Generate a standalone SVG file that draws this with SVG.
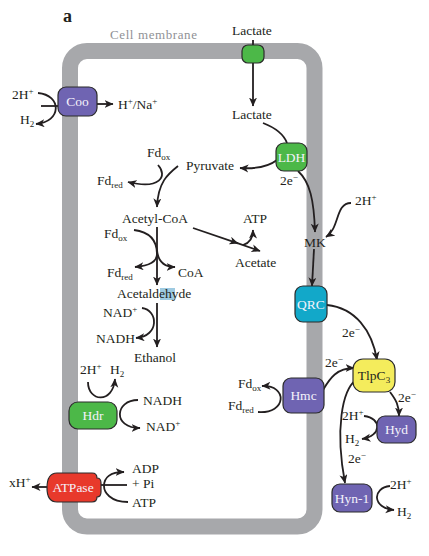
<svg xmlns="http://www.w3.org/2000/svg" width="429" height="556" viewBox="0 0 429 556">
<style>
text{font-family:"Liberation Serif","Times New Roman",serif;font-size:13.5px;fill:#231f20}
.sup{font-size:9px}
.sub{font-size:9px}
.lbl{fill:#f4f2fb;font-size:13.5px;text-anchor:middle}
.c{fill:none;stroke:#231f20;stroke-width:1.8}
.a{marker-end:url(#ah)}
.node{stroke:#2b2b2b;stroke-width:1.2}
</style>
<defs>
<marker id="ah" markerUnits="userSpaceOnUse" markerWidth="10" markerHeight="9" refX="8.5" refY="4" orient="auto">
<path d="M0,0 L9,4 L0,8 L2.5,4 z" fill="#231f20"/>
</marker>
</defs>
<rect width="429" height="556" fill="#fff"/>
<text x="63" y="22" style="font-size:18px;font-weight:bold">a</text>
<text x="110" y="39" style="fill:#8f9195;font-size:13px;letter-spacing:0.6px">Cell membrane</text>
<g id="membrane"><rect x="70" y="51" width="244.5" height="475.5" rx="17" fill="none" stroke="#a7a8ab" stroke-width="16"/></g>
<rect x="160" y="288" width="15" height="12" fill="#9ecae1"/>

<g id="connectors">
<path class="c" d="M253,40 L253,45"/>
<path class="c a" d="M253,63 L253,106"/>
<path class="c" d="M263,123 C276,128 284,135 287,143"/>
<path class="c a" d="M277,160 C268,167 255,169 240,168"/>
<path class="c a" d="M298,171 C310,182 314,200 315,232"/>
<path class="c a" d="M351,203 C335,203 340,228 326,237"/>
<path class="c a" d="M314,249 L312,286"/>
<path class="c a" d="M327,305 C355,308 372,330 377,360"/>
<path class="c a" d="M323,390 C330,378 337,368 354,368"/>
<path class="c a" d="M390,392 C396,400 399,405 399,416"/>
<path class="c a" d="M356,380 C342,390 335,430 345,483"/>
<path class="c a" d="M364,416 C382,418 382,436 362,439"/>
<path class="c a" d="M390,486 C372,488 372,508 394,510"/>
<path class="c a" d="M258,412 C287,414 288,385 262,386"/>
<path class="c a" d="M38,93 C62,95 62,122 36,124"/>
<path class="c" d="M41,106 L58,106"/>
<path class="c a" d="M97,104 L113,104"/>
<path class="c a" d="M178,166 C168,174 158,182 157,207"/>
<path class="c a" d="M158,165 C168,176 160,190 128,182"/>
<path class="c a" d="M157,227 L157,285"/>
<path class="c a" d="M134,230 C150,232 157,240 157,254 C157,262 148,266 135,267"/>
<path class="c a" d="M157,250 C158,262 165,267 175,267"/>
<path class="c a" d="M193,228 L238,243.3"/>
<path class="c a" d="M236,242.6 L260,251"/>
<path class="c a" d="M243,245 C250,243 253,238 253,230"/>
<path class="c a" d="M157,303 L157,347"/>
<path class="c a" d="M142,308 C158,310 160,336 136,338"/>
<path class="c a" d="M88,382 C88,402 113,404 115,379"/>
<path class="c a" d="M138,400 C115,400 112,428 140,428"/>
<path class="c a" d="M47,487 L32,487"/>
<path class="c" d="M101,485 L127,485"/>
<path class="c a" d="M128,502 C110,502 104,492 104,486 C104,478 110,472 124,472"/>
</g>

<g id="lactate-transporter"><rect class="node" x="242" y="45" width="22" height="18" rx="6" fill="#4cb848"/></g>
<g id="coo"><rect class="node" x="58" y="87" width="39" height="29" rx="8" fill="#6f64b2"/><text class="lbl" x="77.5" y="106">Coo</text></g>
<g id="ldh"><rect class="node" x="276" y="143" width="31" height="28" rx="8" fill="#4cb848"/><text class="lbl" x="291.5" y="162">LDH</text></g>
<g id="qrc"><rect class="node" x="295" y="286" width="32" height="36" rx="8" fill="#12a8c9"/><text class="lbl" x="311" y="309">QRC</text></g>
<g id="tlpc3"><rect class="node" x="353" y="359" width="42" height="33" rx="10" fill="#f4ec5c"/><text x="374" y="380" text-anchor="middle" style="font-size:13.5px">TlpC<tspan class="sub" dy="3">3</tspan></text></g>
<g id="hmc"><rect class="node" x="283" y="378" width="41" height="35" rx="8" fill="#6f64b2"/><text class="lbl" x="303.5" y="400">Hmc</text></g>
<g id="hyd"><rect class="node" x="377" y="416" width="39" height="27" rx="8" fill="#6f64b2"/><text class="lbl" x="396.5" y="434">Hyd</text></g>
<g id="hyn1"><rect class="node" x="332" y="484" width="40" height="28" rx="8" fill="#6f64b2"/><text class="lbl" x="352" y="503">Hyn-1</text></g>
<g id="hdr"><rect class="node" x="69" y="402" width="48" height="27" rx="9" fill="#4cb848"/><text class="lbl" x="93" y="420">Hdr</text></g>
<g id="atpase"><path class="node" d="M57,473 L92,473 Q97,473 97,478 Q101,478 101,483 L101,492 Q101,497 97,497 Q97,502 92,502 L57,502 Q47,502 47,488 Q47,473 57,473 Z" fill="#e8392b"/><text class="lbl" x="73" y="492">ATPase</text></g>

<g id="labels">
<text x="12" y="99">2H<tspan class="sup" dy="-5">+</tspan></text>
<text x="20" y="124">H<tspan class="sub" dy="3">2</tspan></text>
<text x="118" y="109">H<tspan class="sup" dy="-5">+</tspan><tspan dy="5">/Na</tspan><tspan class="sup" dy="-5">+</tspan></text>
<text x="232" y="35">Lactate</text>
<text x="232" y="119">Lactate</text>
<text x="186" y="170">Pyruvate</text>
<text x="280" y="185">2e<tspan class="sup" dy="-5">−</tspan></text>
<text x="355" y="205">2H<tspan class="sup" dy="-5">+</tspan></text>
<text x="304" y="247">MK</text>
<text x="243" y="223">ATP</text>
<text x="235" y="267">Acetate</text>
<text x="147" y="157">Fd<tspan class="sub" dy="3">ox</tspan></text>
<text x="97" y="185">Fd<tspan class="sub" dy="3">red</tspan></text>
<text x="122" y="223">Acetyl-CoA</text>
<text x="104" y="238">Fd<tspan class="sub" dy="3">ox</tspan></text>
<text x="107" y="277">Fd<tspan class="sub" dy="3">red</tspan></text>
<text x="178" y="277">CoA</text>
<text x="117" y="298">Acetaldehyde</text>
<text x="103" y="317">NAD<tspan class="sup" dy="-5">+</tspan></text>
<text x="96" y="343">NADH</text>
<text x="134" y="362">Ethanol</text>
<text x="80" y="374">2H<tspan class="sup" dy="-5">+</tspan></text>
<text x="110" y="374">H<tspan class="sub" dy="3">2</tspan></text>
<text x="143" y="405">NADH</text>
<text x="146" y="431">NAD<tspan class="sup" dy="-5">+</tspan></text>
<text x="9" y="487">xH<tspan class="sup" dy="-5">+</tspan></text>
<text x="132" y="473">ADP</text>
<text x="132" y="488">+ Pi</text>
<text x="132" y="507">ATP</text>
<text x="238" y="388">Fd<tspan class="sub" dy="3">ox</tspan></text>
<text x="228" y="410">Fd<tspan class="sub" dy="3">red</tspan></text>
<text x="342" y="337">2e<tspan class="sup" dy="-5">−</tspan></text>
<text x="325" y="367">2e<tspan class="sup" dy="-5">−</tspan></text>
<text x="398" y="402">2e<tspan class="sup" dy="-5">−</tspan></text>
<text x="342" y="420">2H<tspan class="sup" dy="-5">+</tspan></text>
<text x="345" y="443">H<tspan class="sub" dy="3">2</tspan></text>
<text x="348" y="463">2e<tspan class="sup" dy="-5">−</tspan></text>
<text x="390" y="489">2H<tspan class="sup" dy="-5">+</tspan></text>
<text x="397" y="516">H<tspan class="sub" dy="3">2</tspan></text>
</g>
</svg>
